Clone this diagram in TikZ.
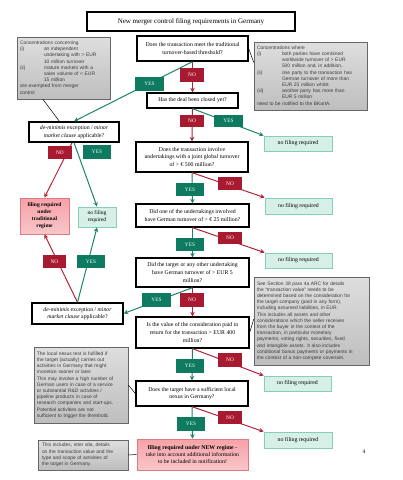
\documentclass[tikz,border=0pt]{standalone}
\usepackage{fontspec}
\setmainfont{Liberation Serif}
\setsansfont{Liberation Sans}
\usetikzlibrary{arrows.meta,shadows,calc}
\definecolor{lblred}{HTML}{A81A30}
\definecolor{lnred}{HTML}{B1253A}
\definecolor{lblgreen}{HTML}{0E7A60}
\definecolor{lngreen}{HTML}{1E8468}
\definecolor{nffill}{HTML}{D6F0E7}
\definecolor{nfdraw}{HTML}{86CFB6}
\definecolor{frtop}{HTML}{F6A2A8}
\definecolor{frbot}{HTML}{F8C6C9}
\definecolor{frdraw}{HTML}{E07A82}
\definecolor{notetop}{HTML}{DEDEDE}
\definecolor{notebot}{HTML}{BEBEBE}
\definecolor{notetext}{HTML}{3C3C3C}
\tikzset{
  sz/.style 2 args={minimum width=#1pt, minimum height=#2pt},
  qbox/.style={draw=black, line width=1.3pt, fill=white, align=center, inner sep=1pt,
    font=\fontsize{5.8}{7.6}\selectfont},
  titlebox/.style={qbox, font=\fontsize{7}{8}\selectfont},
  nfbox/.style={draw=nfdraw, line width=0.8pt, fill=nffill, align=center, inner sep=1pt,
    drop shadow={shadow xshift=0.8pt, shadow yshift=-0.8pt, opacity=0.25},
    font=\fontsize{5.8}{7}\selectfont},
  frbox/.style={draw=frdraw, line width=0.8pt, top color=frtop, bottom color=frbot,
    align=center, inner sep=1pt,
    drop shadow={shadow xshift=0.8pt, shadow yshift=-0.8pt, opacity=0.25}},
  note/.style={draw=gray!80!black, line width=0.6pt, top color=notetop, bottom color=notebot,
    align=left, inner sep=3pt, text=notetext,
    drop shadow={shadow xshift=1.2pt, shadow yshift=-1.2pt, opacity=0.35},
    font=\sffamily\fontsize{4.9}{6.2}\selectfont},
  lbl/.style={text=white, inner sep=0pt, font=\fontsize{5.3}{6}\selectfont},
  nolbl/.style={lbl, fill=lblred},
  yeslbl/.style={lbl, fill=lblgreen},
  rline/.style={draw=lnred, line width=1pt, -{Stealth[length=4.5pt,width=4.5pt]}},
  gline/.style={draw=lngreen, line width=1pt, -{Stealth[length=4.5pt,width=4.5pt]}},
  tline/.style={draw=black, line width=0.5pt},
}
\begin{document}
\begin{tikzpicture}[x=1pt,y=-1pt]
\useasboundingbox[fill=white] (0,0) rectangle (403,480);

% main boxes
\node[titlebox, sz={208}{19}] (title) at (191,21.5) {New merger control filing requirements in Germany};
\node[qbox, sz={111}{25}] (q1) at (192.5,48.5) {Does the transaction meet the traditional\\ turnover-based threshold?};
\node[qbox, sz={91}{15}] (q2) at (192.5,100.5) {Has the deal been closed yet?};
\node[qbox, sz={112}{30}] (q3) at (192,157) {Does the transaction involve\\ undertakings with a joint global turnover\\ of > € 500 million?};
\node[qbox, sz={113}{23}] (q4) at (192.5,215.5) {Did one of the undertakings involved\\ have German turnover of > € 25 million?};
\node[qbox, sz={113}{29}] (q5) at (192.5,272.5) {Did the target or any other undertaking\\ have German turnover of > EUR 5\\ million?};
\node[qbox, sz={113}{31}] (q6) at (192.5,332.5) {Is the value of the consideration paid in\\ return for the transaction > EUR 400\\ million?};
\node[qbox, sz={112}{25}] (q7) at (192,393.5) {Does the target have a sufficient local\\ nexus in Germany?};
\node[frbox, sz={111}{31}, font=\fontsize{5.8}{7.4}\selectfont] (final) at (192.5,454.5) {\textbf{filing required under NEW regime} -\\ take into account additional information\\ to be included in notification!};
\node[qbox, sz={90}{20}] (dm1) at (74,132) {\textit{de-minimis} exception / \textit{minor}\\ \textit{market clause} applicable?};
\node[qbox, sz={91}{21}] (dm2) at (77.5,313.5) {\textit{de-minimis} exception / \textit{minor}\\ \textit{market clause} applicable?};
\node[frbox, sz={49}{36}, font=\bfseries\fontsize{5.5}{7}\selectfont] (filtrad) at (44.5,216) {filing required\\ under\\ traditional\\ regime};

% no filing boxes
\node[nfbox, sz={38}{20}, font=\fontsize{5.5}{6.8}\selectfont] (nf0) at (97,217) {no filing\\ required};
\node[nfbox, sz={68}{15}] (nf1) at (298,143.5) {no filing required};
\node[nfbox, sz={67}{16}] (nf2) at (298.5,206) {no filing required};
\node[nfbox, sz={67}{15}] (nf3) at (298.5,260.5) {no filing required};
\node[nfbox, sz={67}{15}] (nf4) at (297.5,383.5) {no filing required};
\node[nfbox, sz={68}{16}] (nf5) at (298,440) {no filing required};

% notes
\node[note, sz={93}{62}, text width=87pt] (note1) at (63.5,68) {%
\begin{tabular}{@{}p{24pt}@{}l@{}}
\multicolumn{2}{@{}l@{}}{Concentrations concerning}\\
(i) & an independent\\
 & undertaking with > EUR\\
 & 10 million turnover\\
(ii) & mature markets with a\\
 & sales volume of < EUR\\
 & 15 million\\
\multicolumn{2}{@{}l@{}}{are exempted from merger}\\
\multicolumn{2}{@{}l@{}}{control}
\end{tabular}};
\node[note, sz={113}{68}, text width=107pt] (note2) at (310.5,76) {%
\begin{tabular}{@{}p{25pt}@{}l@{}}
\multicolumn{2}{@{}l@{}}{Concentrations where}\\
(i) & both parties have combined\\
 & worldwide turnover of > EUR\\
 & 500 million and, in addition,\\
(ii) & one party to the transaction has\\
 & German turnover of more than\\
 & EUR 25 million whilst\\
(iii) & another party has more than\\
 & EUR 5 million\\
\multicolumn{2}{@{}l@{}}{need to be notified to the BKartA.}
\end{tabular}};
\node[note, sz={115}{88}, text width=109pt] (note3) at (311.5,321) {See Section 38 para 4a ARC for details\\
the ``transaction value'' needs to be\\
determined based on the consideration for\\
the target company (paid in any form),\\
including assumed liabilities, in EUR.\\
This includes all assets and other\\
considerations which the seller receives\\
from the buyer in the context of the\\
transaction, in particular monetary\\
payments, voting rights, securities, fixed\\
and intangible assets. It also includes\\
conditional bonus payments or payments in\\
the context of a non-compete covenant.};
\node[note, sz={94}{76}, text width=88pt] (note4) at (81,385) {The local nexus test is fulfilled if\\
the target (actually) carries out\\
activities in Germany that might\\
monetize sooner or later.\\
This may involve a high number of\\
German users in case of a service\\
or substantial R\&D activities /\\
pipeline products in case of\\
research companies and start-ups.\\
Potential activities are not\\
sufficient to trigger the threshold.};
\node[note, sz={90}{30}, text width=82pt] (note5) at (83,455) {This includes, inter alia, details\\
on the transaction value and the\\
type and scope of activities of\\
the target in Germany.};

\node[font=\fontsize{5.5}{6}\selectfont, inner sep=0pt] (pg) at (364,452) {4};

% connectors
\draw[rline] (q1.south) -- (q2.north);
\draw[gline] (q1.south) -- (dm1.north);
\draw[rline] (q2.south) -- (q3.north);
\draw[gline] (q2.south) -- (nf1.north west);
\draw[rline] ($(dm1.south)+(-2,0)$) -- (filtrad.north);
\draw[gline] (dm1.south) -- (nf0.north);
\draw[gline] (q3.south) -- (q4.north);
\draw[rline] (q3.south) -- (nf2.north west);
\draw[gline] (q4.south) -- (q5.north);
\draw[rline] (q4.south) -- (nf3.north west);
\draw[rline] (q5.south) -- (q6.north);
\draw[gline] (q5.south) -- (dm2.east);
\draw[rline] (dm2.north) -- (filtrad.south);
\draw[gline] (dm2.north) -- (nf0.south);
\draw[gline] (q6.south) -- (q7.north);
\draw[rline] (q6.south) -- (nf4.north west);
\draw[gline] (q7.south) -- (final.north);
\draw[rline] (q7.south) -- (nf5.north west);

% note connectors
\draw[tline] ($(note1.south west)!0.28!(note1.south east)$) -- ($(dm1.north west)!0.34!(dm1.north east)$);
\draw[tline] (q1.east) -- ($(note2.north west)!0.3!(note2.south west)$);
\draw[tline] (q6.east) -- ($(note3.north west)!0.48!(note3.south west)$);
\draw[tline] (note4.east) -- (q7.west);
\draw[tline] (note5.east) -- (final.west);

% labels
\node[nolbl, sz={24}{14}] (l1) at (192,75) {NO};
\node[yeslbl, sz={29}{14}] (l2) at (149.5,84) {YES};
\node[nolbl, sz={24}{12}] (l3) at (192,121) {NO};
\node[yeslbl, sz={29}{12}] (l4) at (228.5,121) {YES};
\node[nolbl, sz={24}{13}] (l5) at (60,152.5) {NO};
\node[yeslbl, sz={28}{14}] (l6) at (97,152) {YES};
\node[nolbl, sz={24}{13}] (l7) at (230,183.5) {NO};
\node[yeslbl, sz={28}{13}] (l8) at (190,189.5) {YES};
\node[nolbl, sz={24}{12}] (l9) at (230,238) {NO};
\node[yeslbl, sz={28}{13}] (l10) at (190,244.5) {YES};
\node[yeslbl, sz={29}{14}] (l11) at (156.5,300) {YES};
\node[nolbl, sz={24}{14}] (l12) at (192,300) {NO};
\node[nolbl, sz={23}{13}] (l13) at (54.5,261.5) {NO};
\node[yeslbl, sz={28}{13}] (l14) at (91,261.5) {YES};
\node[yeslbl, sz={28}{14}] (l15) at (190,366) {YES};
\node[nolbl, sz={24}{14}] (l16) at (230,360) {NO};
\node[nolbl, sz={24}{13}] (l17) at (230,417.5) {NO};
\node[yeslbl, sz={28}{14}] (l18) at (191,424) {YES};
\end{tikzpicture}
\end{document}
